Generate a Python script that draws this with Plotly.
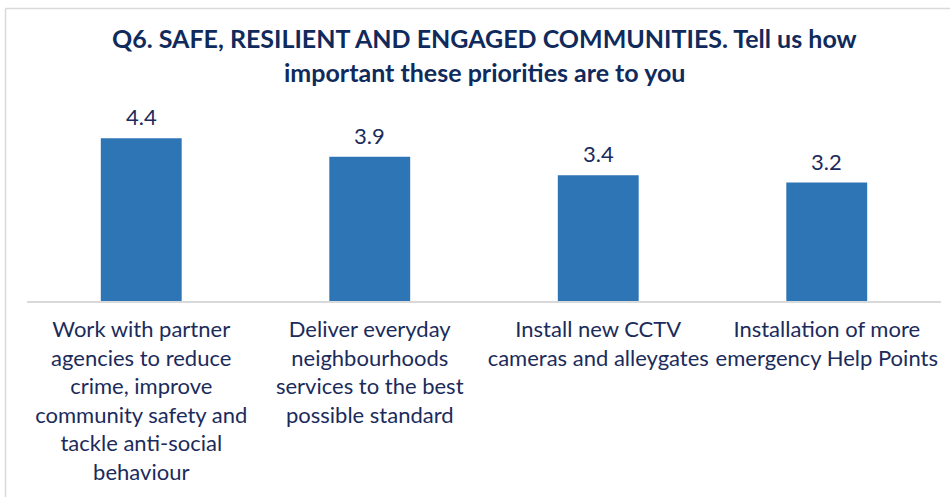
import plotly.graph_objects as go

categories = [
    "Work with partner<br>agencies to reduce<br>crime, improve<br>community safety and<br>tackle anti-social<br>behaviour",
    "Deliver everyday<br>neighbourhoods<br>services to the best<br>possible standard",
    "Install new CCTV<br>cameras and alleygates",
    "Installation of more<br>emergency Help Points",
]
values = [4.4, 3.9, 3.4, 3.2]
value_labels = ["4.4", "3.9", "3.4", "3.2"]
title_lines = [
    "Q6. SAFE, RESILIENT AND ENGAGED COMMUNITIES. Tell us how",
    "important these priorities are to you",
]

FONT = "Lato, Carlito, Calibri, sans-serif"
NAVY = "#1B2B5B"
TITLE_NAVY = "#102A5C"

PLOT_LEFT, PLOT_RIGHT = 27, 941
PLOT_TOP, PLOT_BOTTOM = 130, 301
W, Hfig = 950, 497
H = PLOT_BOTTOM - PLOT_TOP
WP = PLOT_RIGHT - PLOT_LEFT

def py(px):
    return (PLOT_BOTTOM - px) / H

def pxx(px):
    return (px - PLOT_LEFT) / WP

fig = go.Figure()
fig.add_trace(go.Bar(
    x=categories, y=values,
    marker=dict(color="#2E75B6", line=dict(width=0)),
    hoverinfo="skip",
))

for c, v, t in zip(categories, values, value_labels):
    fig.add_annotation(x=c, y=v, xref="x", yref="y", text=t, showarrow=False,
                       yanchor="bottom", yshift=6,
                       font=dict(family=FONT, size=22, color=NAVY))

for yc, line in zip([38, 72], title_lines):
    fig.add_annotation(x=pxx(484), xref="paper", y=py(yc), yref="paper", text="<b>%s</b>" % line,
                       xanchor="center", yanchor="middle",
                       showarrow=False, font=dict(family=FONT, size=25, color=TITLE_NAVY))

# outer chart-area border (top and left edges visible in the reference)
fig.add_shape(type="line", xref="paper", yref="paper",
              x0=pxx(5.5), x1=pxx(950), y0=py(8.5), y1=py(8.5),
              line=dict(color="#D9D9D9", width=1.5))
fig.add_shape(type="line", xref="paper", yref="paper",
              x0=pxx(5.5), x1=pxx(5.5), y0=py(8.5), y1=py(497),
              line=dict(color="#D9D9D9", width=1.5))

fig.update_layout(
    width=W, height=Hfig,
    margin=dict(l=PLOT_LEFT, r=W - PLOT_RIGHT, t=PLOT_TOP,
                b=Hfig - PLOT_BOTTOM, pad=0, autoexpand=False),
    paper_bgcolor="white", plot_bgcolor="white",
    bargap=0.646,
    showlegend=False,
    font=dict(family=FONT, color=NAVY),
    xaxis=dict(showline=True, linecolor="#D9D9D9", linewidth=1.5,
               tickfont=dict(family=FONT, size=22, color=NAVY),
               ticklabelstandoff=8,
               ticks="", showgrid=False, zeroline=False, fixedrange=True),
    yaxis=dict(range=[0, H / 37.0], visible=False, showgrid=False, zeroline=False),
)

fig.write_html("out.html", config={"displayModeBar": False, "staticPlot": True},
               post_script="document.body.style.margin='0';document.body.style.overflow='hidden';")
